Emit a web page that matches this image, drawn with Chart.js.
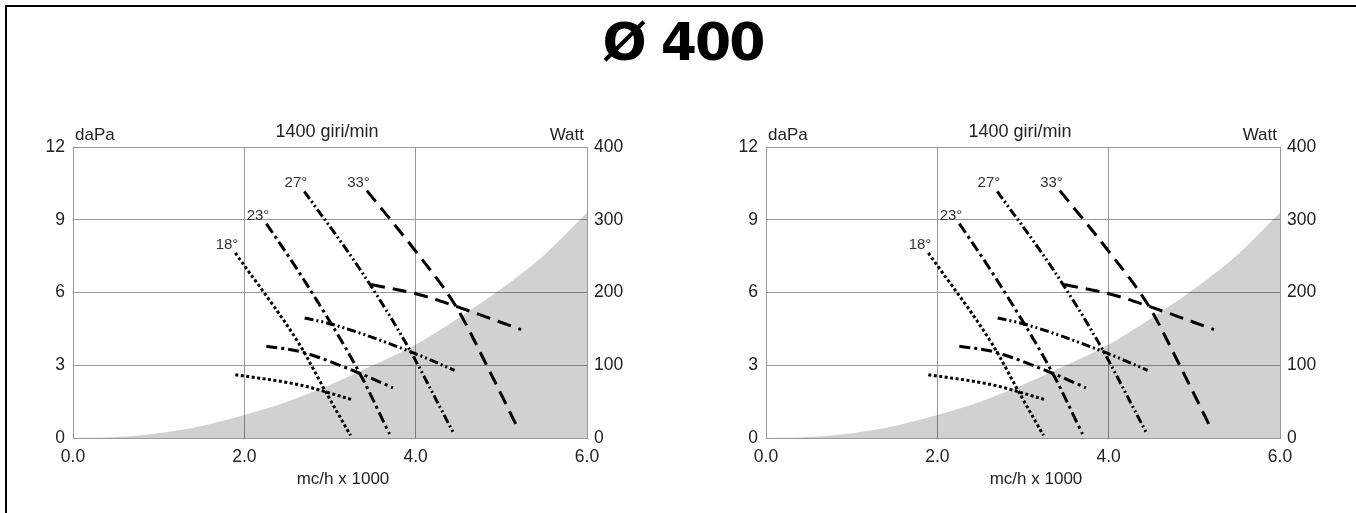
<!DOCTYPE html>
<html>
<head>
<meta charset="utf-8">
<script src="https://cdn.jsdelivr.net/npm/chart.js@4/dist/chart.umd.min.js"></script>
<style>
  body { margin: 0; background: #fff; width: 1356px; height: 513px; overflow: hidden; position: relative; }
  #frame { position: absolute; left: 5px; top: 5px; width: 1360px; height: 520px; border-top: 2px solid #000; border-left: 2px solid #000; }
  #title { position: absolute; left: 5px; width: 1356px; top: 12px; text-align: center; font: bold 52px "DejaVu Sans"; letter-spacing: -2px; color: #000; }
  canvas { position: absolute; top: 120px; }
  #c1 { left: 0px; }
  #c2 { left: 693px; }
</style>
</head>
<body>
<div id="frame"></div>
<div id="title">Ø 400</div>
<canvas id="c1" width="660" height="380"></canvas>
<canvas id="c2" width="660" height="380"></canvas>
<script>
// axis texts
const yTitle = "daPa";
const y1Title = "Watt";
const speedTitle = "1400 giri/min";
const xTitle = "mc/h x 1000";
const angles = ["18°", "23°", "27°", "33°"];

// shaded zone (daPa)
const shadeX = [0, 0.5, 1, 1.5, 2, 2.5, 3, 3.5, 4, 4.5, 5, 5.5, 6];
const shadeY = [0, 0.04, 0.2, 0.5, 0.95, 1.5, 2.2, 3.0, 3.85, 4.95, 6.15, 7.55, 9.3];

// pressure curves (daPa)
const p18X = [1.895, 2.645, 2.957, 3.24];
const p18Y = [7.63, 3.85, 1.86, 0.1];
const p23X = [2.257, 2.645, 3.345, 3.695];
const p23Y = [8.84, 6.80, 2.68, 0.16];
const p27X = [2.70, 3.38, 3.93, 4.28, 4.45];
const p27Y = [10.17, 6.80, 3.64, 1.30, 0.15];
const p33X = [3.43, 4.0, 4.47, 4.85, 5.2];
const p33Y = [10.2, 7.7, 5.43, 2.85, 0.35];

// power curves (Watt)
const w18X = [1.895, 2.645, 3.25];
const w18Y = [87, 73, 53];
const w23X = [2.257, 2.645, 3.345, 3.734];
const w23Y = [126, 119, 89, 69];
const w27X = [2.704, 3.035, 3.93, 4.455];
const w27Y = [165, 156, 119, 93];
const w33X = [3.48, 4.045, 4.47, 5.23];
const w33Y = [211, 197, 181, 149];

const pressX = [p18X, p23X, p27X, p33X];
const pressY = [p18Y, p23Y, p27Y, p33Y];
const powX = [w18X, w23X, w27X, w33X];
const powY = [w18Y, w23Y, w27Y, w33Y];
const dashes = [[3, 2.5], [11, 4, 3, 4], [9, 3, 2, 3, 2, 3], [14, 8]];

const FONT = '"Liberation Sans", Arial, sans-serif';
const TXT = "#222";

function pts(xs, ys) {
  return xs.map((v, i) => ({ x: v, y: ys[i] }));
}

function curve(xs, ys, axis, dash) {
  return {
    data: pts(xs, ys),
    yAxisID: axis,
    borderColor: "#000",
    borderWidth: 3,
    borderDash: dash,
    pointRadius: 0,
    fill: false,
    cubicInterpolationMode: "monotone"
  };
}

const textPlugin = {
  id: "texts",
  afterDatasetsDraw(chart) {
    const ctx = chart.ctx;
    const a = chart.chartArea;
    const x = chart.scales.x, y = chart.scales.y;
    ctx.save();
    ctx.fillStyle = TXT;
    ctx.font = "17px " + FONT;
    ctx.textBaseline = "alphabetic";
    ctx.textAlign = "left";
    ctx.fillText(yTitle, a.left + 2, a.top - 7);
    ctx.textAlign = "center";
    ctx.font = "18px " + FONT;
    ctx.fillText(speedTitle, (a.left + a.right) / 2 - 3, a.top - 10);
    ctx.font = "17px " + FONT;
    ctx.textAlign = "right";
    ctx.fillText(y1Title, a.right - 3, a.top - 7);
    ctx.textAlign = "center";
    ctx.fillText(xTitle, (a.left + a.right) / 2 + 13, a.bottom + 46);
    ctx.font = "15px " + FONT;
    ctx.fillStyle = "#333";
    ctx.textAlign = "right";
    angles.forEach((t, i) => {
      const px = x.getPixelForValue(pressX[i][0]);
      const py = y.getPixelForValue(pressY[i][0]);
      ctx.fillText(t, px + 3, py - 4);
    });
    ctx.restore();
  }
};

function makeChart(id) {
  const datasets = [{
    data: pts(shadeX, shadeY),
    yAxisID: "y",
    borderWidth: 0,
    pointRadius: 0,
    backgroundColor: "rgba(0,0,0,0.18)",
    fill: "origin",
    cubicInterpolationMode: "monotone"
  }];
  for (let i = 0; i < 4; i++) datasets.push(curve(pressX[i], pressY[i], "y", dashes[i]));
  for (let i = 0; i < 4; i++) datasets.push(curve(powX[i], powY[i], "y1", dashes[i]));

  const tickFont = { family: FONT, size: 17.5 };
  new Chart(document.getElementById(id), {
    type: "line",
    data: { datasets },
    options: {
      responsive: false,
      animation: false,
      devicePixelRatio: 1,
      layout: { padding: { top: 27, left: 0, right: 0, bottom: 0 } },
      plugins: { legend: { display: false }, tooltip: { enabled: false } },
      scales: {
        x: {
          type: "linear", min: 0, max: 6,
          ticks: { stepSize: 2, callback: v => v.toFixed(1), font: tickFont, color: TXT, padding: 9, maxRotation: 0 },
          grid: { color: "#999", drawTicks: false },
          border: { color: "#999" },
          afterFit: s => { s.height = 62; }
        },
        y: {
          position: "left", min: 0, max: 12,
          ticks: { stepSize: 3, font: tickFont, color: TXT, padding: 8 },
          grid: { color: "#999", drawTicks: false },
          border: { color: "#999" },
          afterFit: s => { s.width = 73; }
        },
        y1: {
          position: "right", min: 0, max: 400,
          ticks: { stepSize: 100, font: tickFont, color: TXT, padding: 7 },
          grid: { display: false, drawTicks: false },
          border: { display: false },
          afterFit: s => { s.width = 73; }
        }
      }
    },
    plugins: [textPlugin]
  });
}

makeChart("c1");
makeChart("c2");
</script>
</body>
</html>
